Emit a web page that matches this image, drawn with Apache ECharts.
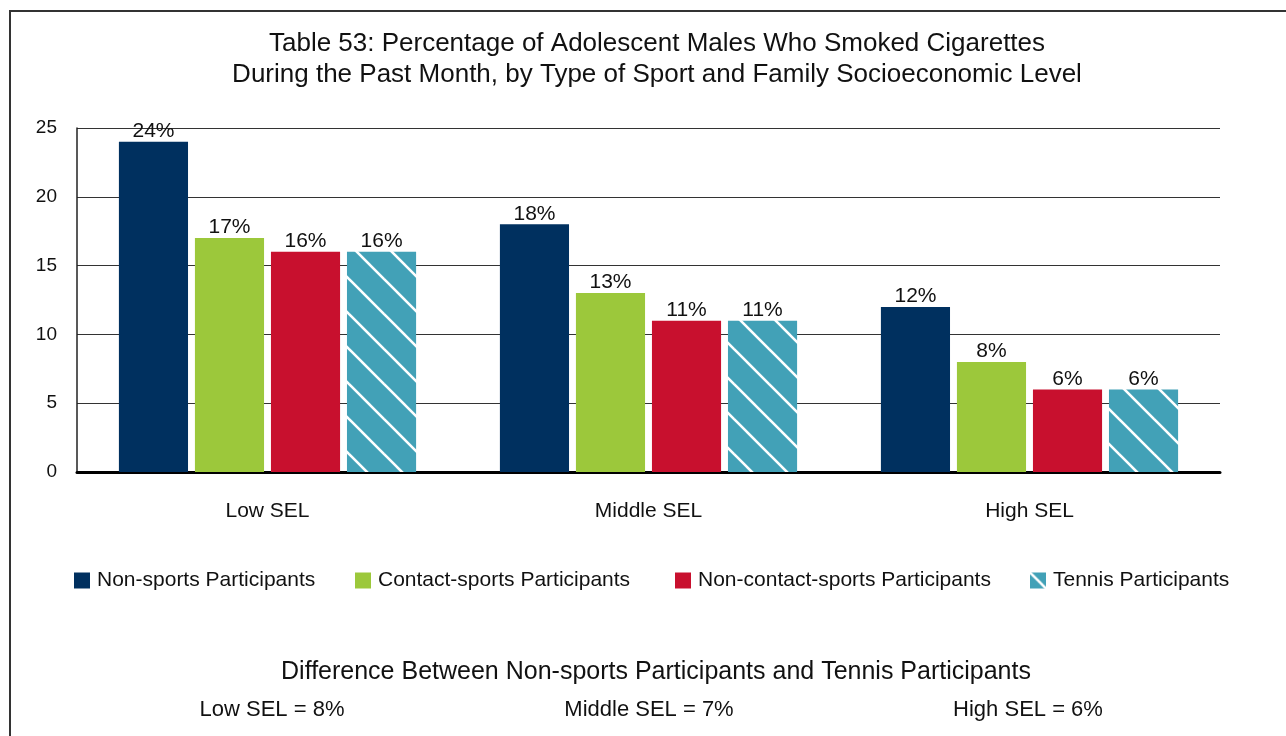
<!DOCTYPE html>
<html>
<head>
<meta charset="utf-8">
<script src="https://cdn.jsdelivr.net/npm/echarts@6/dist/echarts.min.js"></script>
<style>
html,body{margin:0;padding:0;background:#fff;}
#chart{width:1286px;height:736px;}
</style>
</head>
<body>
<div id="chart"></div>
<script>
// ---- data ----
const categories = ['Low SEL', 'Middle SEL', 'High SEL'];
const seriesNames = ['Non-sports Participants', 'Contact-sports Participants', 'Non-contact-sports Participants', 'Tennis Participants'];
const nonSports = [24, 18, 12];
const contactSports = [17, 13, 8];
const nonContactSports = [16, 11, 6];
const tennis = [16, 11, 6];
const yTicks = [0, 5, 10, 15, 20, 25];
const differenceTitle = 'Difference Between Non-sports Participants and Tennis Participants';
const differences = [8, 7, 6];

// ---- style ----
const FONT = '"Liberation Sans", Arial, Helvetica, sans-serif';
const colors = ['#00305f', '#9cc83b', '#c8102e', '#42a1b7'];

function makeStripePattern(bg) {
  const s = 35;
  const c = document.createElement('canvas');
  c.width = s; c.height = s;
  const ctx = c.getContext('2d');
  ctx.fillStyle = bg;
  ctx.fillRect(0, 0, s, s);
  ctx.strokeStyle = '#ffffff';
  ctx.lineWidth = 2.6;
  [-s, 0, s].forEach(function (k) {
    ctx.beginPath();
    ctx.moveTo(-5, -5 + k);
    ctx.lineTo(s + 5, s + 5 + k);
    ctx.stroke();
  });
  return { image: c, repeat: 'repeat' };
}

const chart = echarts.init(document.getElementById('chart'), null, { renderer: 'canvas' });

const dataSets = [nonSports, contactSports, nonContactSports, tennis];
const series = dataSets.map(function (d, i) {
  return {
    name: seriesNames[i],
    type: 'bar',
    data: d,
    barGap: '10%',
    barCategoryGap: '22%',
    itemStyle: { color: i === 3 ? makeStripePattern(colors[3]) : colors[i] },
    label: {
      show: true,
      position: 'top',
      distance: 0,
      formatter: '{c}%',
      color: '#111',
      fontFamily: FONT,
      fontSize: 21
    }
  };
});

const legendLefts = [74, 355, 675, 1030];
const legends = seriesNames.map(function (n, i) {
  return {
    data: [n],
    left: legendLefts[i],
    top: 570,
    padding: 0,
    itemWidth: 16,
    itemHeight: 16,
    itemGap: 6,
    icon: 'rect',
    selectedMode: false,
    textStyle: { fontFamily: FONT, fontSize: 21, color: '#111', padding: [0, 0, 0, 2] }
  };
});

const diffCenters = [272, 649, 1028];
const graphics = [
  {
    type: 'rect',
    shape: { x: 10, y: 11, width: 1300, height: 760 },
    style: { fill: null, stroke: '#333', lineWidth: 2 },
    silent: true,
    z: -1
  },
  {
    type: 'text',
    x: 656, y: 672,
    style: {
      text: differenceTitle, fontFamily: FONT, fontSize: 25, fill: '#111',
      textAlign: 'center', textVerticalAlign: 'middle'
    }
  }
].concat(categories.map(function (c, i) {
  return {
    type: 'text',
    x: diffCenters[i], y: 710,
    style: {
      text: c + ' = ' + differences[i] + '%', fontFamily: FONT, fontSize: 22, fill: '#111',
      textAlign: 'center', textVerticalAlign: 'middle'
    }
  };
}));

chart.setOption({
  animation: false,
  backgroundColor: '#fff',
  title: {
    text: 'Table 53: Percentage of Adolescent Males Who Smoked Cigarettes\nDuring the Past Month, by Type of Sport and Family Socioeconomic Level',
    left: 652,
    top: 23,
    textAlign: 'center',
    textStyle: { fontFamily: FONT, fontSize: 26, fontWeight: 'normal', color: '#111', lineHeight: 31 }
  },
  legend: legends,
  grid: { left: 77, right: 66, top: 128, bottom: 264, containLabel: false },
  xAxis: {
    type: 'category',
    data: categories,
    axisLine: { show: true, lineStyle: { color: '#000', width: 3 } },
    axisTick: { show: false },
    axisLabel: { fontFamily: FONT, fontSize: 21, color: '#111', margin: 29 }
  },
  yAxis: {
    type: 'value',
    min: yTicks[0],
    max: yTicks[yTicks.length - 1],
    interval: yTicks[1] - yTicks[0],
    axisLine: { show: true, lineStyle: { color: '#222', width: 1.5 } },
    axisTick: { show: false },
    axisLabel: { fontFamily: FONT, fontSize: 19, color: '#111', margin: 20 },
    splitLine: { show: true, lineStyle: { color: '#333', width: 1.2 } }
  },
  series: series,
  graphic: graphics
});
</script>
</body>
</html>
